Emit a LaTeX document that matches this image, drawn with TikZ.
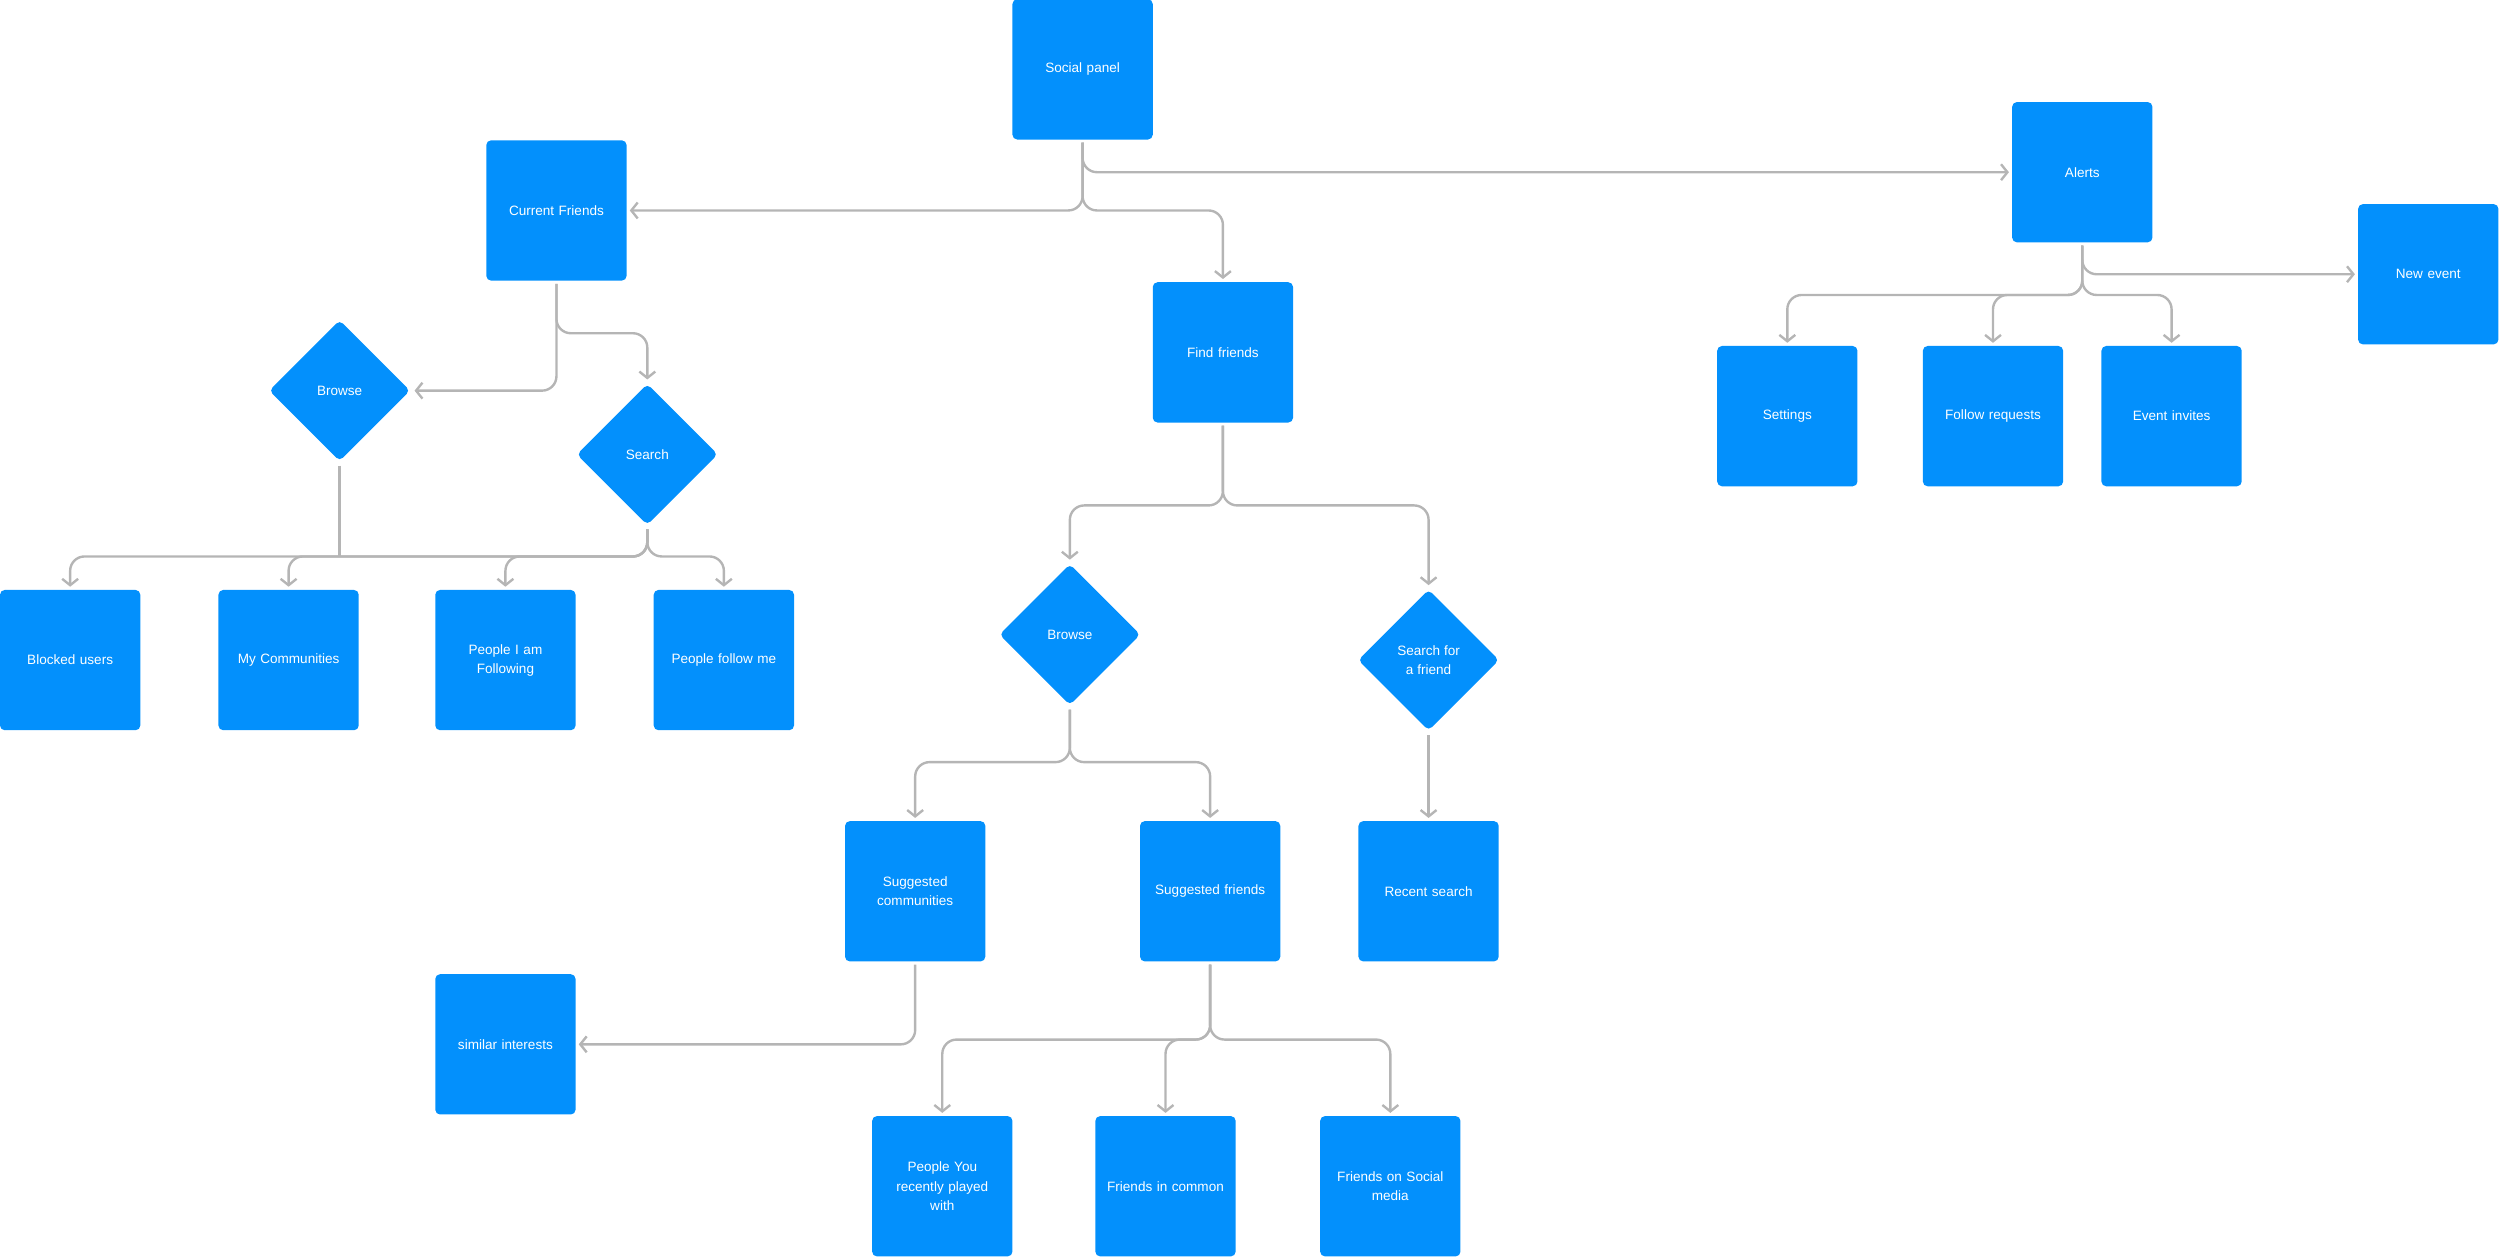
\documentclass[tikz,border=0pt]{standalone}
\usepackage{fontspec}
\setmainfont{Liberation Sans}
\usetikzlibrary{shapes.geometric,arrows.meta}
\definecolor{boxblue}{HTML}{0390FC}
\definecolor{lin}{HTML}{B5B5B5}
\begin{document}
\begin{tikzpicture}[x=1pt,y=-1pt,
  box/.style={fill=boxblue,rounded corners=3pt,minimum width=88pt,minimum height=88pt,text=white,font=\fontsize{8.5}{12}\selectfont,align=center,text width=78pt,inner sep=0pt,outer sep=2pt},
  dia/.style={diamond,fill=boxblue,rounded corners=3pt,minimum width=90pt,minimum height=90pt,text=white,font=\fontsize{8.5}{12}\selectfont,align=center,inner sep=0pt,outer sep=2pt},
  con/.style={draw=lin,line width=1.5pt,rounded corners=9pt,-{Straight Barb[length=4pt,width=10pt]}},
  lineonly/.style={draw=lin,line width=1.5pt,rounded corners=9pt}]
\useasboundingbox (0,0) rectangle (1568,788);
\node[box] (social) at (679,43.5) {Social panel};
\node[box] (alerts) at (1306,108) {Alerts};
\node[box] (cf) at (349,132) {Current Friends};
\node[box] (ff) at (767,221) {Find friends};
\node[box] (ne) at (1523,172) {New event};
\node[box] (set) at (1121,261) {Settings};
\node[box] (fr) at (1250,261) {Follow requests};
\node[box] (ei) at (1362,261) {Event invites};
\node[dia] (br1) at (213,245) {Browse};
\node[dia] (se1) at (406,285) {Search};
\node[box] (bu) at (44,414) {Blocked users};
\node[box] (mc) at (181,414) {My Communities};
\node[box] (pif) at (317,414) {People I am\\Following};
\node[box] (pfm) at (454,414) {People follow me};
\node[dia] (br2) at (671,398) {Browse};
\node[dia] (saf) at (896,414) {Search for\\a friend};
\node[box] (sc) at (574,559) {Suggested\\communities};
\node[box] (sf) at (759,559) {Suggested friends};
\node[box] (rs) at (896,559) {Recent search};
\node[box] (si) at (317,655) {similar interests};
\node[box] (prp) at (591,744) {People You\\recently played\\with};
\node[box] (fic) at (731,744) {Friends in common};
\node[box] (fsm) at (872,744) {Friends on Social\\media};
% social panel
\draw[con] (social.south) |- (alerts.west);
\draw[con] (social.south) |- (cf.east);
\draw[con] (social.south) |- (767,132) -- (ff.north);
% alerts
\draw[con] (alerts.south) |- (ne.west);
\draw[con] (alerts.south) |- (1121,185) -- (set.north);
\draw[con] (alerts.south) |- (1250,185) -- (fr.north);
\draw[con] (alerts.south) |- (1362,185) -- (ei.north);
% current friends
\draw[con] (cf.south) |- (br1.east);
\draw[con] (cf.south) |- (406,209) -- (se1.north);
\draw[lineonly] (br1.south) -- (213,349);
\draw[con] (se1.south) |- (44,349) -- (bu.north);
\draw[con] (se1.south) |- (181,349) -- (mc.north);
\draw[con] (se1.south) |- (317,349) -- (pif.north);
\draw[con] (se1.south) |- (454,349) -- (pfm.north);
% find friends
\draw[con] (ff.south) |- (671,317) -- (br2.north);
\draw[con] (ff.south) |- (896,317) -- (saf.north);
\draw[con] (br2.south) |- (574,478) -- (sc.north);
\draw[con] (br2.south) |- (759,478) -- (sf.north);
\draw[con] (saf.south) -- (rs.north);
\draw[con] (sc.south) |- (si.east);
\draw[con] (sf.south) |- (591,652) -- (prp.north);
\draw[con] (sf.south) |- (731,652) -- (fic.north);
\draw[con] (sf.south) |- (872,652) -- (fsm.north);
\end{tikzpicture}
\end{document}
